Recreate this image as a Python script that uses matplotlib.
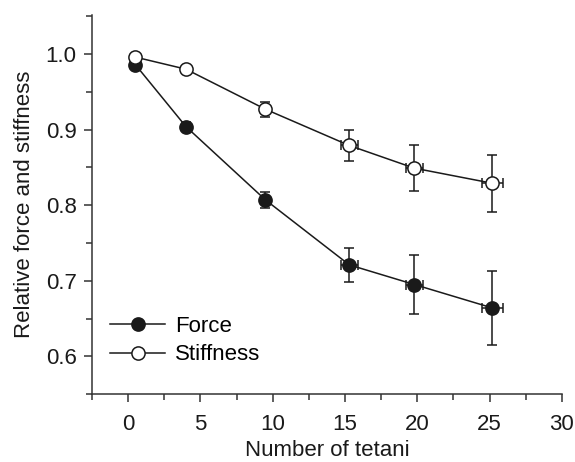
import matplotlib
matplotlib.use("Agg")
import matplotlib.pyplot as plt
from matplotlib.ticker import MultipleLocator

# Data
tetani = [0.5, 4.0, 9.5, 15.3, 19.8, 25.2]
tetani_err = [0.0, 0.0, 0.0, 0.6, 0.6, 0.7]

force = [0.986, 0.904, 0.807, 0.721, 0.695, 0.664]
force_err = [0.004, 0.006, 0.011, 0.023, 0.039, 0.049]

stiffness = [0.996, 0.980, 0.927, 0.879, 0.849, 0.829]
stiffness_err = [0.003, 0.003, 0.010, 0.020, 0.030, 0.038]

FS = 16

plt.rcParams['font.family'] = ['Liberation Sans', 'DejaVu Sans']

fig = plt.figure(figsize=(5.75, 4.62), dpi=100)
ax = fig.add_axes([0.16, 0.147, 0.817, 0.821])

common = dict(color='#1a1a1a', lw=1.1, elinewidth=1.1, capsize=3.5, capthick=1.1,
              marker='o', ms=9.5, mec='#1a1a1a', mew=1.1)
ax.errorbar(tetani, force, yerr=force_err, xerr=tetani_err, mfc='#1a1a1a',
            label='Force', zorder=3, **common)
ax.errorbar(tetani, stiffness, yerr=stiffness_err, xerr=tetani_err, mfc='white',
            label='Stiffness', zorder=3, **common)

ax.set_xlim(-2.5, 30)
ax.set_ylim(0.55, 1.052)
ax.xaxis.set_minor_locator(MultipleLocator(2.5))
ax.yaxis.set_minor_locator(MultipleLocator(0.05))
ax.set_xticks(range(0, 31, 5))
ax.set_yticks([0.6, 0.7, 0.8, 0.9, 1.0])
ax.set_yticklabels(['0.6', '0.7', '0.8', '0.9', '1.0'])

for side in ('top', 'right'):
    ax.spines[side].set_visible(False)
for side in ('left', 'bottom'):
    ax.spines[side].set_color('#333333')
    ax.spines[side].set_linewidth(1.1)

ax.tick_params(which='major', direction='out', length=6, width=1.1, colors='#333333',
               labelsize=FS, labelcolor='#1a1a1a', pad=5)
ax.tick_params(axis='x', which='major', pad=8)
ax.tick_params(which='minor', direction='out', length=4, width=1.1, colors='#333333')

ax.set_xlabel('Number of tetani', fontsize=FS, color='#1a1a1a', labelpad=4)
ax.set_ylabel('Relative force and stiffness', fontsize=FS, color='#1a1a1a', labelpad=8)

handles, labels = ax.get_legend_handles_labels()
handles = [h[0] for h in handles]
ax.legend(handles, labels, loc='center left', bbox_to_anchor=(0.038, 0.141), frameon=False,
          fontsize=FS, handlelength=2.5, handletextpad=0.45, labelspacing=0.35,
          borderpad=0, borderaxespad=0)

fig.savefig('out.png', dpi=100)
